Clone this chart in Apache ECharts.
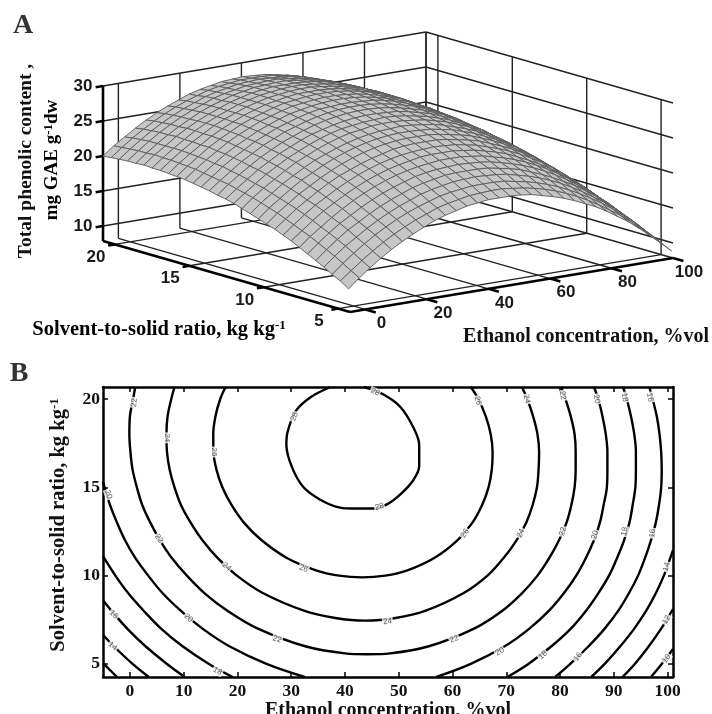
<!DOCTYPE html>
<html><head><meta charset="utf-8">
<style>html,body{margin:0;padding:0;background:#fff}#c{width:712px;height:714px}</style>
<script src="https://cdn.jsdelivr.net/npm/echarts@6/dist/echarts.min.js"></script>
</head><body><div id="c"></div>
<script>
// ---------- Data ----------
const xValues=[-5,-1.5,2,5.5,9,12.5,16,19.5,23,26.5,30,33.5,37,40.5,44,47.5,51,54.5,58,61.5,65,68.5,72,75.5,79,82.5,86,89.5,93,96.5,100];
const sValues=[4.3,4.85,5.4,5.95,6.5,7.05,7.6,8.15,8.7,9.25,9.8,10.35,10.9,11.45,12,12.55,13.1,13.65,14.2,14.75,15.3,15.85,16.4,16.95,17.5,18.05,18.6,19.15,19.7,20.25,20.8];
const zRows=[
[11.1,12.4,13.6,14.7,15.7,16.6,17.4,18.1,18.8,19.3,19.7,20.1,20.3,20.5,20.5,20.5,20.4,20.2,19.8,19.4,18.9,18.3,17.6,16.9,16,15,14,12.8,11.5,10.2,8.8],
[11.9,13.1,14.3,15.4,16.4,17.3,18.1,18.8,19.4,20,20.4,20.7,21,21.1,21.2,21.2,21,20.8,20.5,20.1,19.6,19,18.3,17.5,16.6,15.6,14.6,13.4,12.1,10.8,9.4],
[12.5,13.8,15,16.1,17.1,18,18.8,19.5,20.1,20.6,21.1,21.4,21.6,21.8,21.8,21.8,21.7,21.4,21.1,20.7,20.2,19.6,18.9,18.1,17.2,16.3,15.2,14,12.8,11.4,10],
[13.2,14.5,15.7,16.7,17.7,18.6,19.4,20.1,20.7,21.3,21.7,22,22.3,22.4,22.5,22.4,22.3,22.1,21.7,21.3,20.8,20.2,19.5,18.7,17.8,16.8,15.8,14.6,13.3,12,10.5],
[13.8,15.1,16.3,17.4,18.3,19.2,20,20.7,21.3,21.9,22.3,22.6,22.9,23,23,23,22.9,22.6,22.3,21.9,21.3,20.7,20,19.2,18.4,17.4,16.3,15.1,13.8,12.5,11],
[14.4,15.7,16.9,18,18.9,19.8,20.6,21.3,21.9,22.4,22.9,23.2,23.4,23.5,23.6,23.5,23.4,23.2,22.8,22.4,21.9,21.3,20.6,19.8,18.9,17.9,16.8,15.6,14.4,13,11.5],
[15,16.3,17.4,18.5,19.5,20.4,21.2,21.9,22.5,23,23.4,23.7,23.9,24.1,24.1,24.1,23.9,23.7,23.3,22.9,22.4,21.8,21.1,20.3,19.4,18.4,17.3,16.1,14.8,13.5,12],
[15.6,16.8,18,19.1,20,20.9,21.7,22.4,23,23.5,23.9,24.2,24.5,24.6,24.6,24.6,24.4,24.2,23.8,23.4,22.9,22.2,21.5,20.7,19.8,18.8,17.7,16.6,15.3,13.9,12.4],
[16.1,17.3,18.5,19.6,20.5,21.4,22.2,22.9,23.5,24,24.4,24.7,24.9,25,25.1,25,24.9,24.6,24.3,23.8,23.3,22.7,22,21.2,20.3,19.3,18.2,17,15.7,14.3,12.9],
[16.6,17.8,19,20,21,21.9,22.7,23.3,23.9,24.4,24.8,25.2,25.4,25.5,25.5,25.5,25.3,25,24.7,24.3,23.7,23.1,22.4,21.6,20.7,19.7,18.6,17.4,16.1,14.7,13.2],
[17,18.3,19.4,20.5,21.4,22.3,23.1,23.8,24.4,24.9,25.3,25.6,25.8,25.9,25.9,25.9,25.7,25.4,25.1,24.7,24.1,23.5,22.8,21.9,21,20,18.9,17.7,16.4,15.1,13.6],
[17.4,18.7,19.8,20.9,21.9,22.7,23.5,24.2,24.8,25.3,25.7,26,26.2,26.3,26.3,26.2,26.1,25.8,25.5,25,24.5,23.8,23.1,22.3,21.4,20.4,19.3,18.1,16.8,15.4,13.9],
[17.8,19.1,20.2,21.3,22.2,23.1,23.9,24.5,25.1,25.6,26,26.3,26.5,26.6,26.7,26.6,26.4,26.2,25.8,25.3,24.8,24.2,23.4,22.6,21.7,20.7,19.6,18.4,17.1,15.7,14.2],
[18.2,19.5,20.6,21.6,22.6,23.5,24.2,24.9,25.5,26,26.4,26.6,26.9,27,27,26.9,26.7,26.5,26.1,25.7,25.1,24.5,23.7,22.9,22,21,19.8,18.6,17.3,16,14.5],
[18.6,19.8,20.9,22,22.9,23.8,24.5,25.2,25.8,26.3,26.7,26.9,27.1,27.2,27.3,27.2,27,26.7,26.4,25.9,25.4,24.7,24,23.2,22.2,21.2,20.1,18.9,17.6,16.2,14.7],
[18.9,20.1,21.2,22.3,23.2,24.1,24.8,25.5,26.1,26.5,26.9,27.2,27.4,27.5,27.5,27.4,27.3,27,26.6,26.2,25.6,25,24.2,23.4,22.5,21.4,20.3,19.1,17.8,16.4,14.9],
[19.1,20.4,21.5,22.5,23.5,24.3,25.1,25.7,26.3,26.8,27.2,27.5,27.7,27.8,27.8,27.7,27.5,27.2,26.8,26.4,25.8,25.2,24.4,23.6,22.6,21.6,20.5,19.3,18,16.6,15.1],
[19.4,20.6,21.7,22.8,23.7,24.6,25.3,26,26.5,27,27.4,27.7,27.9,28,28,27.9,27.7,27.4,27,26.6,26,25.3,24.6,23.8,22.8,21.8,20.7,19.4,18.1,16.7,15.2],
[19.6,20.8,22,23,23.9,24.8,25.5,26.2,26.7,27.2,27.6,27.9,28,28.1,28.1,28,27.9,27.6,27.2,26.7,26.1,25.5,24.7,23.9,22.9,21.9,20.8,19.6,18.2,16.8,15.3],
[19.8,21,22.1,23.2,24.1,24.9,25.7,26.3,26.9,27.4,27.7,28,28.2,28.3,28.3,28.2,28,27.7,27.3,26.8,26.3,25.6,24.9,24,23.1,22,20.9,19.7,18.3,16.9,15.4],
[20,21.2,22.3,23.3,24.3,25.1,25.8,26.5,27,27.5,27.9,28.1,28.3,28.4,28.4,28.3,28.1,27.8,27.4,26.9,26.4,25.7,24.9,24.1,23.1,22.1,21,19.7,18.4,17,15.5],
[20.1,21.3,22.4,23.5,24.4,25.2,26,26.6,27.1,27.6,28,28.2,28.4,28.5,28.5,28.4,28.2,27.9,27.5,27,26.4,25.8,25,24.1,23.2,22.1,21,19.8,18.4,17,15.5],
[20.2,21.4,22.5,23.5,24.5,25.3,26,26.7,27.2,27.7,28,28.3,28.5,28.5,28.5,28.4,28.2,27.9,27.5,27,26.5,25.8,25,24.2,23.2,22.2,21,19.8,18.4,17,15.5],
[20.3,21.5,22.6,23.6,24.5,25.4,26.1,26.7,27.3,27.7,28.1,28.3,28.5,28.6,28.6,28.4,28.2,27.9,27.5,27.1,26.5,25.8,25,24.2,23.2,22.1,21,19.8,18.4,17,15.5],
[20.3,21.5,22.6,23.6,24.6,25.4,26.1,26.7,27.3,27.7,28.1,28.3,28.5,28.6,28.6,28.4,28.2,27.9,27.5,27,26.4,25.8,25,24.1,23.2,22.1,21,19.7,18.4,16.9,15.4],
[20.4,21.6,22.6,23.7,24.6,25.4,26.1,26.7,27.3,27.7,28.1,28.3,28.5,28.5,28.5,28.4,28.2,27.9,27.5,27,26.4,25.7,24.9,24.1,23.1,22,20.9,19.6,18.3,16.9,15.3],
[20.3,21.5,22.6,23.6,24.5,25.3,26.1,26.7,27.2,27.7,28,28.3,28.4,28.5,28.5,28.3,28.1,27.8,27.4,26.9,26.3,25.6,24.8,24,23,21.9,20.8,19.5,18.2,16.7,15.2],
[20.3,21.5,22.6,23.6,24.5,25.3,26,26.6,27.2,27.6,27.9,28.2,28.3,28.4,28.4,28.2,28,27.7,27.3,26.8,26.2,25.5,24.7,23.8,22.9,21.8,20.6,19.4,18,16.6,15.1],
[20.2,21.4,22.5,23.5,24.4,25.2,25.9,26.5,27.1,27.5,27.8,28.1,28.2,28.3,28.2,28.1,27.9,27.6,27.1,26.6,26,25.4,24.6,23.7,22.7,21.6,20.5,19.2,17.9,16.4,14.9],
[20.1,21.3,22.4,23.4,24.3,25.1,25.8,26.4,26.9,27.4,27.7,27.9,28.1,28.1,28.1,28,27.7,27.4,27,26.5,25.9,25.2,24.4,23.5,22.5,21.4,20.3,19,17.7,16.2,14.7],
[20,21.2,22.2,23.2,24.1,24.9,25.6,26.2,26.8,27.2,27.5,27.8,27.9,28,27.9,27.8,27.5,27.2,26.8,26.3,25.7,25,24.2,23.3,22.3,21.2,20.1,18.8,17.4,16,14.4]
];
const zTicks=[10,15,20,25,30];
const xTicks3d=[0,20,40,60,80,100];
const sTicks3d=[5,10,15,20];
const xTicks2d=[0,10,20,30,40,50,60,70,80,90,100];
const sTicks2d=[5,10,15,20];

const contour28=[[37.3,20.68],[33.6,20.1],[30.8,19.3],[29.3,18.1],[29.1,17.4],[30.2,16.1],[32.3,15],[35.4,14.3],[39.1,13.85],[41.5,13.8],[45.3,13.8],[47.9,14.05],[50.3,14.6],[52.7,15.4],[53.8,16.2],[53.8,17.4],[52.7,18.4],[50.3,19.55],[47,20.28],[43.5,20.68]];
const contour26=[[17.8,20.68],[16.8,20],[15.9,19],[15.5,18],[15.55,17],[16.1,16],[17.2,15],[18.9,14],[21.2,13],[24.5,12],[29.2,11],[34.6,10.3],[38.9,10],[43.2,9.9],[47.5,10],[51.6,10.3],[56.6,11],[60.9,12],[63.7,13],[65.5,14],[66.7,15],[67.3,16],[67.45,17],[67.1,18],[66.2,19],[64.8,20],[63.4,20.68]];
const contour24=[[8.3,20.68],[7.7,20],[7,19],[6.8,18],[6.9,17],[7.4,16],[8.3,15],[9.5,14],[11.3,13],[13.5,12],[16.3,11],[19.9,10],[24.8,9],[32.5,8],[38.2,7.6],[43.8,7.45],[49.4,7.6],[54.9,8],[62,9],[66.5,10],[69.5,11],[71.9,12],[73.7,13],[74.9,14],[75.7,15],[76,16],[76.1,17],[75.8,18],[75,19],[73.9,20],[72.9,20.68]];
const contour22=[[1,20.68],[0.6,20],[0,19],[-0.1,18],[0.1,17],[0.5,16],[1.3,15],[2.3,14],[3.8,13],[5.6,12],[7.8,11],[10.6,10],[13.9,9],[18.2,8],[23.8,7],[32.6,6],[40,5.6],[44.2,5.55],[48.4,5.6],[55.6,6],[64,7],[69.2,8],[72.9,9],[75.8,10],[78,11],[79.8,12],[81.2,13],[82.1,14],[82.7,15],[82.9,16],[82.9,17],[82.7,18],[82,19],[81,20],[80.2,20.68]];
const contour20a=[[-5,15.3],[-4.7,15],[-3.7,14],[-2.4,13],[-0.9,12],[1,11],[3.4,10],[6.1,9],[9.5,8],[13.5,7],[18.5,6],[25.4,5],[32.5,4.26]];
const contour20b=[[57,4.26],[63.4,5],[69.7,6],[74.3,7],[77.9,8],[80.7,9],[83,10],[84.8,11],[86.3,12],[87.4,13],[88.1,14],[88.7,15],[88.8,16],[88.8,17],[88.5,18],[87.9,19],[87.1,20],[86.3,20.68]];
const contour18a=[[-5,11.1],[-2.7,10],[-0.3,9],[2.6,8],[5.8,7],[9.8,6],[14.7,5],[19.1,4.26]];
const contour18b=[[70.2,4.26],[74.1,5],[78.4,6],[82,7],[84.8,8],[87.1,9],[89.1,10],[90.6,11],[91.9,12],[92.9,13],[93.5,14],[94,15],[94.1,16],[94.1,17],[93.8,18],[93.2,19],[92.4,20],[91.7,20.68]];
const contour16a=[[-5,8.6],[-3.4,8],[-0.5,7],[2.9,6],[6.9,5],[10.2,4.26]];
const contour16b=[[79.1,4.26],[81.9,5],[85.3,6],[88.3,7],[90.8,8],[92.8,9],[94.5,10],[95.8,11],[96.9,12],[97.8,13],[98.4,14],[98.8,15],[98.9,16],[98.8,17],[98.5,18],[98,19],[97.2,20],[96.6,20.68]];
const contour14a=[[-5,6.65],[-3,6],[0.5,5],[3.5,4.26]];
const contour14b=[[85.8,4.26],[88.3,5],[91.2,6],[93.8,7],[96,8],[97.8,9],[99.3,10],[100.5,11],[101,11.45]];
const contour12a=[[-5,5.05],[-2.4,4.26]];
const contour12b=[[91.6,4.26],[93.9,5],[96.5,6],[98.8,7],[100.8,8],[101,8.1]];
const contour10=[[96.9,4.26],[98.9,5],[101,5.85]];
const contourLines=[contour28,contour26,contour24,contour22,contour20a,contour20b,contour18a,contour18b,contour16a,contour16b,contour14a,contour14b,contour12a,contour12b,contour10];

// [x, s, level, rotation]
const contourLabels=[
[0.8,19.8,'22',85],[7,17.8,'24',-90],[15.6,17,'26',-90],[30.6,19,'28',70],[-4,14.6,'20',-70],
[5.4,12.1,'22',-55],[18,10.5,'24',-40],[32.3,10.4,'26',-20],[10.9,7.6,'20',-40],[27.4,6.4,'22',-18],
[-3,7.8,'16',-45],[-3.2,6,'14',-40],[16.3,4.6,'18',-30],
[45.6,20.4,'28',-25],[64.7,19.9,'26',-75],[73.8,20,'24',-75],[80.5,20.2,'22',-80],[86.8,20,'20',-80],[92,20.1,'18',-80],[96.7,20.1,'16',-80],
[46.4,13.9,'28',15],[62.3,12.4,'26',55],[72.7,12.4,'24',65],[80.5,12.5,'22',75],[86.5,12.3,'20',75],[92,12.5,'18',80],[97.2,12.4,'16',85],
[99.8,10.5,'14',75],[99.8,7.5,'12',60],[99.8,5.3,'10',55],[47.9,7.4,'24',5],[60.3,6.4,'22',20],[68.8,5.7,'20',30],[76.8,5.5,'18',40],[83.3,5.4,'16',50]
];

// ---------- 3D box projection (orthographic) ----------
const XMIN=-5,XMAX=100,SMIN=4.2,SMAX=20.8,ZMIN=7.86,ZMAX=30;
function project(x,s,z){
  const u=(x-XMIN)/(XMAX-XMIN), v=(SMAX-s)/(SMAX-SMIN);
  return [103+u*323+v*247, 241-u*54+v*71-(z-ZMIN)*7];
}
// surface cells painted from the far corner to the near corner
const cells=[];
for(let i=sValues.length-2;i>=0;i--) for(let j=xValues.length-2;j>=0;j--) cells.push([i,j]);

function seg(a,b){return a.concat(b);}
const thin=[],thick=[];
zTicks.forEach(z=>{
  thin.push(seg([XMIN,SMAX,z],[XMAX,SMAX,z]));
  thin.push(seg([XMAX,SMAX,z],[XMAX,SMIN,z]));
  thick.push(seg([XMIN,SMAX,z],[XMIN-2.4,SMAX,z]));
});
thin.push(seg([XMAX,SMAX,ZMIN],[XMAX,SMAX,ZMAX]));
xTicks3d.forEach(x=>{
  thin.push(seg([x,SMAX,ZMIN],[x,SMAX,ZMAX]));
  thin.push(seg([x,SMIN,ZMIN],[x,SMAX,ZMIN]));
  thick.push(seg([x,SMIN,ZMIN],[x,SMIN-0.7,ZMIN]));
});
sTicks3d.forEach(s=>{
  thin.push(seg([XMAX,s,ZMIN],[XMAX,s,ZMAX]));
  thin.push(seg([XMIN,s,ZMIN],[XMAX,s,ZMIN]));
  thick.push(seg([XMIN,s,ZMIN],[XMIN-2.2,s,ZMIN]));
});
thick.push(seg([XMIN,SMAX,ZMIN],[XMIN,SMAX,ZMAX]));
thick.push(seg([XMIN,SMAX,ZMIN],[XMIN,SMIN,ZMIN]));
thick.push(seg([XMIN,SMIN,ZMIN],[XMAX,SMIN,ZMIN]));

const boxText=[];
zTicks.forEach(z=>boxText.push([String(z),XMIN,SMAX,z,-20,0]));
sTicks3d.forEach(s=>boxText.push([String(s),XMIN,s,ZMIN,-19,13]));
xTicks3d.forEach(x=>boxText.push([String(x),x,SMIN,ZMIN,16,14]));

function lineSeries(list,width,color){
  return {type:'custom',xAxisIndex:0,yAxisIndex:0,clip:false,silent:true,animation:false,progressive:0,
    data:list.map((d,k)=>[k]),
    renderItem(p,api){
      const d=list[p.dataIndex];
      const a=api.coord(project(d[0],d[1],d[2])),b=api.coord(project(d[3],d[4],d[5]));
      return {type:'line',shape:{x1:a[0],y1:a[1],x2:b[0],y2:b[1]},style:{stroke:color,lineWidth:width}};
    }};
}
const series=[
  lineSeries(thin,1.4,'#222'),
  lineSeries(thick,2.6,'#000'),
  {type:'custom',xAxisIndex:0,yAxisIndex:0,clip:false,silent:true,animation:false,progressive:0,
    data:cells,
    renderItem(p,api){
      const c=cells[p.dataIndex],i=c[0],j=c[1];
      const pts=[[j,i],[j+1,i],[j+1,i+1],[j,i+1]].map(q=>api.coord(project(xValues[q[0]],sValues[q[1]],zRows[q[1]][q[0]])));
      return {type:'polygon',shape:{points:pts},style:{fill:'#c6c6c6',stroke:'#5a5a5a',lineWidth:0.9}};
    }},
  {type:'custom',xAxisIndex:0,yAxisIndex:0,clip:false,silent:true,animation:false,progressive:0,
    data:boxText.map((d,k)=>[k]),
    renderItem(p,api){
      const d=boxText[p.dataIndex];
      const a=api.coord(project(d[1],d[2],d[3]));
      return {type:'text',x:a[0]+d[4],y:a[1]+d[5],style:{text:d[0],align:'center',verticalAlign:'middle',fill:'#1a1a1a',font:'bold 17px "Liberation Sans"'}};
    }}
];
contourLines.forEach(c=>series.push({type:'line',xAxisIndex:1,yAxisIndex:1,data:c,showSymbol:false,symbol:'none',smooth:0.35,silent:true,animation:false,clip:true,lineStyle:{color:'#000',width:2.4}}));
series.push({type:'scatter',xAxisIndex:1,yAxisIndex:1,silent:true,animation:false,z:6,symbolSize:1,itemStyle:{color:'transparent'},
  data:contourLabels.map(l=>({value:[l[0],l[1]],label:{show:true,position:'inside',formatter:l[2],rotate:l[3],fontSize:8,color:'#333',fontFamily:'Liberation Sans',backgroundColor:'#fff',padding:[0,1]}}))});

const frame={show:true,onZero:false,lineStyle:{color:'#000',width:2.5}};
const inTick={show:true,inside:true,length:5,lineStyle:{color:'#000',width:1.5}};
const tickFont={fontFamily:'Liberation Serif',fontWeight:'bold',fontSize:17.5,color:'#111'};
const titleRich={a:{fontFamily:'Liberation Serif',fontWeight:'bold',fontSize:20.5,color:'#111'},b:{fontFamily:'Liberation Serif',fontWeight:'bold',fontSize:13,color:'#111',verticalAlign:'top',lineHeight:18},
  m:{fontFamily:'Liberation Serif',fontWeight:'bold',fontSize:19,color:'#111'}};

const option={
  backgroundColor:'#fff',animation:false,
  grid:[{left:0,right:0,top:0,bottom:0,show:false,outerBoundsMode:'none'},{left:103,right:39,top:387,bottom:37,show:false,outerBoundsMode:'none'}],
  xAxis:[
    {gridIndex:0,type:'value',min:0,max:712,show:false},
    {gridIndex:1,type:'value',min:-5,max:101,position:'bottom',axisLine:frame,splitLine:{show:false},
      axisTick:Object.assign({},inTick,{customValues:xTicks2d}),
      axisLabel:Object.assign({},tickFont,{customValues:xTicks2d,margin:5,formatter:v=>String(v)}),
      name:'Ethanol concentration, %vol',nameLocation:'middle',nameGap:18,
      nameTextStyle:{fontFamily:'Liberation Serif',fontWeight:'bold',fontSize:20,color:'#111'}},
    {gridIndex:1,type:'value',min:-5,max:101,position:'top',axisLine:frame,splitLine:{show:false},
      axisTick:Object.assign({},inTick,{customValues:xTicks2d}),axisLabel:{show:false}}
  ],
  yAxis:[
    {gridIndex:0,type:'value',min:0,max:714,inverse:true,show:false},
    {gridIndex:1,type:'value',min:4.26,max:20.68,position:'left',axisLine:frame,splitLine:{show:false},
      axisTick:Object.assign({},inTick,{customValues:sTicks2d}),
      axisLabel:Object.assign({},tickFont,{customValues:sTicks2d,margin:3,formatter:v=>String(v)}),
      name:'{a|Solvent-to-solid ratio, kg kg}{b|-1}',nameLocation:'middle',nameGap:34,
      nameTextStyle:{rich:titleRich,padding:[0,0,0,14]}},
    {gridIndex:1,type:'value',min:4.26,max:20.68,position:'right',axisLine:frame,splitLine:{show:false},
      axisTick:Object.assign({},inTick,{customValues:sTicks2d}),axisLabel:{show:false}}
  ],
  series:series,
  graphic:[
    {type:'text',x:23,y:26,style:{text:'A',align:'center',verticalAlign:'middle',fill:'#333',font:'bold 28px "Liberation Serif"'}},
    {type:'text',x:19,y:374,style:{text:'B',align:'center',verticalAlign:'middle',fill:'#333',font:'bold 28px "Liberation Serif"'}},
    {type:'text',x:26,y:161,rotation:Math.PI/2,style:{text:'Total phenolic content ,',align:'center',verticalAlign:'middle',fill:'#111',font:'bold 19.5px "Liberation Serif"'}},
    {type:'text',x:52,y:160,rotation:Math.PI/2,style:{text:'{m|mg GAE g}{b|-1}{m|dw}',align:'center',verticalAlign:'middle',rich:titleRich}},
    {type:'text',x:159,y:330,style:{text:'{a|Solvent-to-solid ratio, kg kg}{b|-1}',align:'center',verticalAlign:'middle',rich:titleRich}},
    {type:'text',x:586,y:337,style:{text:'Ethanol concentration, %vol',align:'center',verticalAlign:'middle',fill:'#111',font:'bold 20px "Liberation Serif"'}}
  ]
};
const chart=echarts.init(document.getElementById('c'),null,{renderer:'canvas',width:712,height:714});
chart.setOption(option);
</script></body></html>
